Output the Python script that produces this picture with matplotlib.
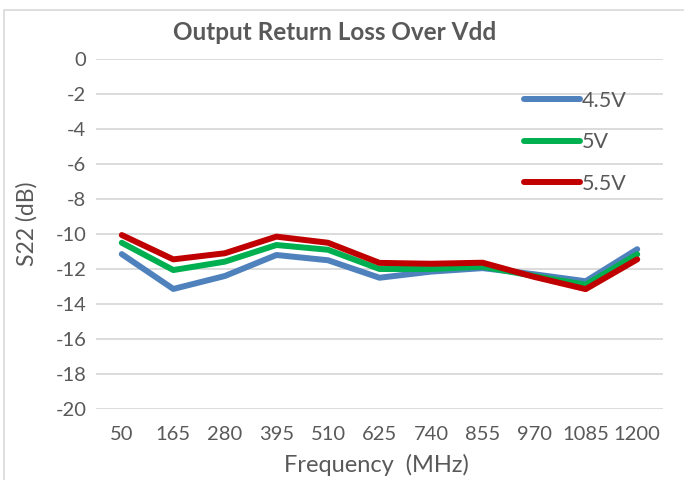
import matplotlib
matplotlib.use("Agg")
import matplotlib.pyplot as plt
from matplotlib.patches import Rectangle

categories = ["50", "165", "280", "395", "510", "625", "740", "855", "970", "1085", "1200"]
v45 = [-11.15, -13.14, -12.4, -11.2, -11.5, -12.5, -12.15, -11.95, -12.3, -12.7, -10.87]
v50 = [-10.5, -12.06, -11.58, -10.63, -10.9, -12.0, -12.0, -11.87, -12.4, -12.9, -11.16]
v55 = [-10.06, -11.45, -11.1, -10.15, -10.5, -11.65, -11.7, -11.64, -12.45, -13.15, -11.45]
series_names = ["4.5V", "5V", "5.5V"]
colors = ["#4F81BD", "#00B050", "#C00000"]
yticks = list(range(0, -21, -2))

plt.rcParams['font.family'] = ['Lato', 'DejaVu Sans']
txt = "#595959"

fig = plt.figure(figsize=(6.84, 4.8), dpi=100)
ax = fig.add_axes([96/684, 1-409/480, (663-96)/684, (409-59)/480])

x = list(range(len(categories)))
for vals, name, c in zip([v45, v50, v55], series_names, colors):
    ax.plot(x, vals, color=c, lw=4.3, label=name, solid_capstyle='round', solid_joinstyle='round')

ax.set_xlim(-0.5, len(categories)-0.5)
ax.set_ylim(-20, 0)
ax.set_yticks(yticks)
ax.set_yticklabels([str(t) for t in yticks])
ax.set_xticks(x)
ax.set_xticklabels(categories)
ax.tick_params(axis='both', length=0, labelsize=14.5, colors=txt)
ax.tick_params(axis='x', pad=12)
ax.tick_params(axis='y', pad=7)
ax.grid(axis='y', color="#D9D9D9", lw=1.3)
ax.set_axisbelow(True)
for s in ax.spines.values():
    s.set_visible(False)

fig.text(376/684, 1-465/480, "Frequency  (MHz)", fontsize=17, color=txt, ha='center', va='center')
fig.text(27/684, 1-224/480, "S22 (dB)", fontsize=16.5, color=txt, ha='center', va='center', rotation=90)
fig.text(335/684, 1-32/480, "Output Return Loss Over Vdd", fontsize=17.5, fontweight='bold',
         color=txt, ha='center', va='center')

leg = ax.legend(loc='upper left', bbox_to_anchor=(515/684, 1-82/480), bbox_transform=fig.transFigure,
                frameon=False, fontsize=15.5, handlelength=2.6, handletextpad=0.12,
                labelspacing=1.0, borderaxespad=0)
for t in leg.get_texts():
    t.set_color(txt)

fig.patches.append(Rectangle((4/684, -0.1), 1.2, 1.1 - 10/480, transform=fig.transFigure,
                             fill=False, edgecolor="#D9D9D9", lw=1.2))

fig.savefig("out.png", dpi=100)
